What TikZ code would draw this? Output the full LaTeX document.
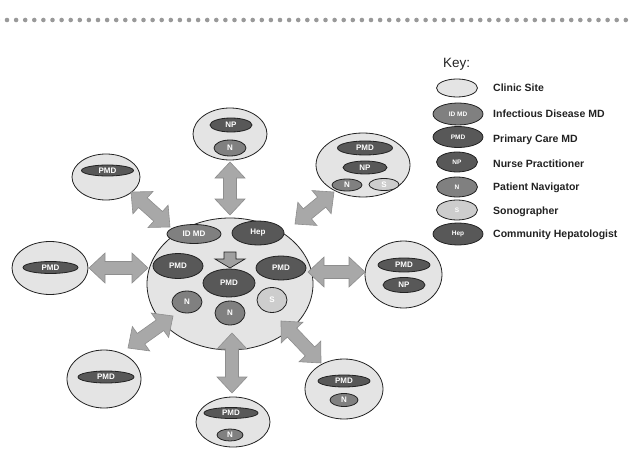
\documentclass[tikz,border=0pt]{standalone}
\usepackage{fontspec}
\setmainfont{Liberation Sans}
\usetikzlibrary{shapes.geometric,calc}
\definecolor{sitefill}{HTML}{E4E4E4}
\definecolor{darkfill}{HTML}{585858}
\definecolor{medfill}{HTML}{808080}
\definecolor{lightfill}{HTML}{CDCDCD}
\definecolor{arrfill}{HTML}{A8A8A8}
\definecolor{arrline}{HTML}{8E8E8E}
\definecolor{dotc}{HTML}{999999}
\definecolor{inkc}{HTML}{222222}
\tikzset{
  sz/.style 2 args={minimum width=#1pt, minimum height=#2pt},
  blob/.style={ellipse, draw=inkc, line width=0.8pt, inner sep=0pt},
  site/.style={blob, fill=sitefill},
  darkblob/.style={blob, fill=darkfill, text=white, font=\fontsize{8}{8}\selectfont\bfseries},
  medblob/.style={blob, fill=medfill, text=white, font=\fontsize{8}{8}\selectfont\bfseries},
  lightblob/.style={blob, fill=lightfill, text=white, font=\fontsize{8}{8}\selectfont\bfseries},
  keysmall/.style={font=\fontsize{6.5}{7}\selectfont\bfseries},
  keylabel/.style={anchor=west, inner sep=0pt, text=inkc, font=\fontsize{10.5}{12}\selectfont\bfseries},
  bigarrow/.style={fill=arrfill, draw=arrline, line width=0.6pt, line join=miter},
}
\newcommand\hl{16pt}
\newcommand\hw{15pt}
\newcommand\sw{6.5pt}
\newcommand\dblarrow[2]{%
  \coordinate (tmpP) at ($(#1)!\hl!(#2)$);
  \coordinate (tmpQ) at ($(#2)!\hl!(#1)$);
  \draw[bigarrow] (#1) -- ($(tmpP)!\hw!90:(#2)$) -- ($(tmpP)!\sw!90:(#2)$)
    -- ($(tmpQ)!\sw!-90:(#1)$) -- ($(tmpQ)!\hw!-90:(#1)$) -- (#2)
    -- ($(tmpQ)!\hw!90:(#1)$) -- ($(tmpQ)!\sw!90:(#1)$)
    -- ($(tmpP)!\sw!-90:(#2)$) -- ($(tmpP)!\hw!-90:(#2)$) -- cycle;
}
\begin{document}
\begin{tikzpicture}[x=1pt,y=-1pt]
\useasboundingbox (0,0) rectangle (631,449);
% dotted rule
\foreach \i in {-1,...,69} \fill[dotc] (7+\i*9.1,20) circle[radius=2.3pt];

% central site
\node[site, sz={166}{132}] (c) at (230,284) {};
\node[medblob, sz={54}{19}] (cid) at (194,234) {ID MD};
\node[darkblob, sz={52}{24}] (chep) at (258,233) {Hep};
\node[darkblob, sz={50}{25}] (cpl) at (178,266) {PMD};
\node[darkblob, sz={52}{28}] (cpc) at (229,283) {PMD};
\node[darkblob, sz={50}{24}] (cpr) at (281,268) {PMD};
\node[medblob, sz={30}{22}] (cnl) at (187,302) {N};
\node[medblob, sz={30}{24}] (cnb) at (230,313) {N};
\node[lightblob, sz={30}{25}] (cs) at (272,300) {S};
\draw[fill=arrfill!95!black, draw=inkc, line width=0.7pt, line join=miter]
  (224,252) -- (236,252) -- (236,259) -- (245,259) -- (230,268) -- (215,259) -- (224,259) -- cycle;

% top
\node[site, sz={74}{52}] (t) at (230,134) {};
\node[darkblob, sz={42}{14}] (tnp) at (231,125) {NP};
\node[medblob, sz={32}{16}] (tn) at (230,148) {N};
% top right
\node[site, sz={94}{64}] (tr) at (363,165) {};
\node[darkblob, sz={55}{14}] (trp) at (365,148) {PMD};
\node[darkblob, sz={44}{13}] (trnp) at (365,167.5) {NP};
\node[medblob, sz={30}{12}] (trn) at (347,185) {N};
\node[lightblob, sz={30}{12}] (trs) at (384,184.5) {S};
% right
\node[site, sz={77}{67}] (r) at (403.5,274.5) {};
\node[darkblob, sz={52}{14}] (rp) at (404,265) {PMD};
\node[darkblob, sz={42}{15}] (rnp) at (404,285) {NP};
% bottom right
\node[site, sz={78}{60}] (br) at (344,389) {};
\node[darkblob, sz={52}{12}] (brp) at (344,381) {PMD};
\node[medblob, sz={28}{13}] (brn) at (344,400) {N};
% bottom
\node[site, sz={74}{50}] (b) at (233,422) {};
\node[darkblob, sz={54}{11}] (bp) at (231,413) {PMD};
\node[medblob, sz={26}{12}] (bn) at (230,435) {N};
% bottom left
\node[site, sz={74}{58}] (bl) at (104,379) {};
\node[darkblob, sz={56}{12}] (blp) at (106,377) {PMD};
% left
\node[site, sz={76}{53}] (l) at (50,268) {};
\node[darkblob, sz={55}{12}] (lp) at (50.5,267.5) {PMD};
% top left
\node[site, sz={68}{46}] (tl) at (106,177) {};
\node[darkblob, sz={52}{11}] (tlp) at (107.5,170.5) {PMD};

% connector ends
\coordinate (a1) at (230,162);   \coordinate (b1) at (230,215);
\coordinate (a2) at (295,224);   \coordinate (b2) at (334,192);
\coordinate (a3) at (308,272);   \coordinate (b3) at (365,272);
\coordinate (a4) at (281,321);   \coordinate (b4) at (321,363);
\coordinate (a5) at (232,333);   \coordinate (b5) at (232,393);
\coordinate (a6) at (128,348);   \coordinate (b6) at (173,316);
\coordinate (a7) at (89,268);    \coordinate (b7) at (148,268);
\coordinate (a8) at (131,192);   \coordinate (b8) at (170,227);
\dblarrow{a1}{b1}
\dblarrow{a2}{b2}
\dblarrow{a3}{b3}
\dblarrow{a4}{b4}
\dblarrow{a5}{b5}
\dblarrow{a6}{b6}
\dblarrow{a7}{b7}
\dblarrow{a8}{b8}

% key
\node[anchor=west, inner sep=0pt, text=inkc, font=\fontsize{13.5}{15}\selectfont] (keyt) at (443,64) {Key:};
\node[site, sz={41}{18}] (k1) at (457,88) {};
\node[medblob, keysmall, sz={50}{22}] (k2) at (458,114) {ID MD};
\node[darkblob, keysmall, sz={50}{21}] (k3) at (458,137) {PMD};
\node[darkblob, keysmall, sz={41}{20}] (k4) at (457,162) {NP};
\node[medblob, keysmall, sz={41}{20}] (k5) at (457,187) {N};
\node[lightblob, keysmall, sz={41}{20}] (k6) at (457,210) {S};
\node[darkblob, keysmall, sz={50}{22}] (k7) at (458,234) {Hep};
\node[keylabel] (l1) at (493,88) {Clinic Site};
\node[keylabel] (l2) at (493,114) {Infectious Disease MD};
\node[keylabel] (l3) at (493,140) {Primary Care MD};
\node[keylabel] (l4) at (493,164) {Nurse Practitioner};
\node[keylabel] (l5) at (493,188) {Patient Navigator};
\node[keylabel] (l6) at (493,212) {Sonographer};
\node[keylabel] (l7) at (493,235) {Community Hepatologist};
\end{tikzpicture}
\end{document}
